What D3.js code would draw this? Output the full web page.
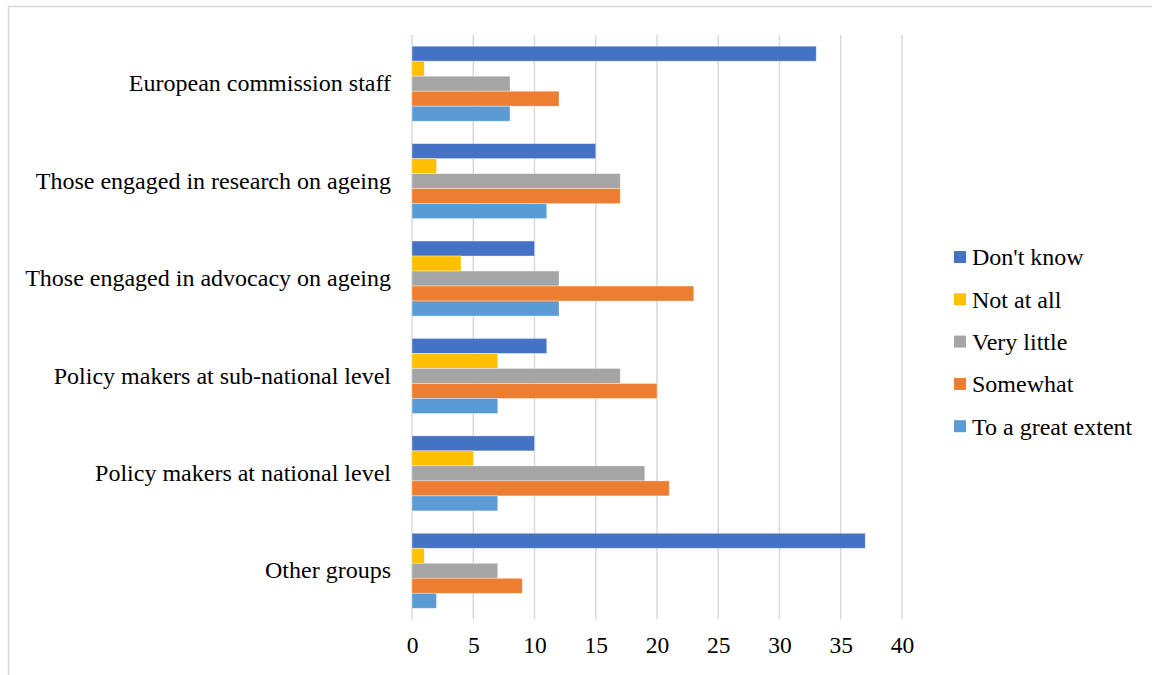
<!DOCTYPE html>
<html>
<head>
<meta charset="utf-8">
<script src="https://cdn.jsdelivr.net/npm/d3@7"></script>
<style>
  body { margin: 0; background: #fff; }
  svg { display: block; font-family: "Liberation Serif", "Times New Roman", serif; }
</style>
</head>
<body>
<div id="chart"></div>
<script>
// categories, top to bottom
const categories = [
  "European commission staff",
  "Those engaged in research on ageing",
  "Those engaged in advocacy on ageing",
  "Policy makers at sub-national level",
  "Policy makers at national level",
  "Other groups"
];

// series, in the order drawn inside each group (top to bottom)
const seriesNames = ["Don't know", "Not at all", "Very little", "Somewhat", "To a great extent"];
const seriesColors = ["#4472C4", "#FFC000", "#A5A5A5", "#ED7D31", "#5B9BD5"];

const dontKnow = [33, 15, 10, 11, 10, 37];
const notAtAll = [1, 2, 4, 7, 5, 1];
const veryLittle = [8, 17, 12, 17, 19, 7];
const somewhat = [12, 17, 23, 20, 21, 9];
const greatExtent = [8, 11, 12, 7, 7, 2];

const xTicks = [0, 5, 10, 15, 20, 25, 30, 35, 40];

const seriesValues = [dontKnow, notAtAll, veryLittle, somewhat, greatExtent];

const width = 1152, height = 675;
const svg = d3.select("#chart").append("svg")
  .attr("width", width)
  .attr("height", height);

// chart border
svg.append("rect")
  .attr("x", 8.5).attr("y", 6.5)
  .attr("width", 1160).attr("height", 700)
  .attr("fill", "none")
  .attr("stroke", "#d9d9d9")
  .attr("stroke-width", 1.5);

const x = d3.scaleLinear().domain([0, 40]).range([412, 902]);
const y = d3.scaleBand().domain(categories).range([35, 619.5])
  .paddingInner(0.23).paddingOuter(0.115);
const ySub = d3.scaleBand().domain(seriesNames).range([0, y.bandwidth()]);

// gridlines
svg.append("g")
  .selectAll("line")
  .data(xTicks)
  .join("line")
  .attr("x1", d => x(d)).attr("x2", d => x(d))
  .attr("y1", 35).attr("y2", 619.5)
  .attr("stroke", "#d9d9d9")
  .attr("stroke-width", 1.5);

// bars
const groups = svg.append("g")
  .selectAll("g")
  .data(categories)
  .join("g")
  .attr("transform", d => `translate(0,${y(d)})`);

groups.selectAll("rect")
  .data((c, i) => seriesNames.map((s, j) => ({ s, v: seriesValues[j][i], color: seriesColors[j] })))
  .join("rect")
  .attr("x", x(0))
  .attr("y", d => ySub(d.s))
  .attr("width", d => x(d.v) - x(0))
  .attr("height", ySub.bandwidth())
  .attr("fill", d => d.color)
  .attr("stroke", "rgba(255,255,255,0.45)")
  .attr("stroke-width", 0.8);

// x axis tick labels
const xAxis = d3.axisBottom(x).tickValues(xTicks).tickSize(0).tickPadding(0);
const xg = svg.append("g")
  .attr("transform", "translate(0,636)")
  .call(xAxis);
xg.select(".domain").remove();
xg.selectAll("text")
  .attr("font-family", "Liberation Serif, Times New Roman, serif")
  .attr("font-size", 23.5)
  .attr("fill", "#000");

// category labels
const yAxis = d3.axisLeft(y).tickSize(0).tickPadding(21);
const yg = svg.append("g")
  .attr("transform", `translate(${x(0)},0)`)
  .call(yAxis);
yg.select(".domain").remove();
yg.selectAll("text")
  .attr("font-family", "Liberation Serif, Times New Roman, serif")
  .attr("font-size", 24)
  .attr("fill", "#000");

// legend
const legend = svg.append("g")
  .selectAll("g")
  .data(seriesNames)
  .join("g")
  .attr("transform", (d, i) => `translate(954,${257 + i * 42.3})`);

legend.append("rect")
  .attr("x", 0).attr("y", -6)
  .attr("width", 12).attr("height", 12)
  .attr("fill", (d, i) => seriesColors[i]);

legend.append("text")
  .attr("x", 18)
  .attr("dy", "0.35em")
  .attr("font-size", 24)
  .attr("fill", "#000")
  .text(d => d);
</script>
</body>
</html>
